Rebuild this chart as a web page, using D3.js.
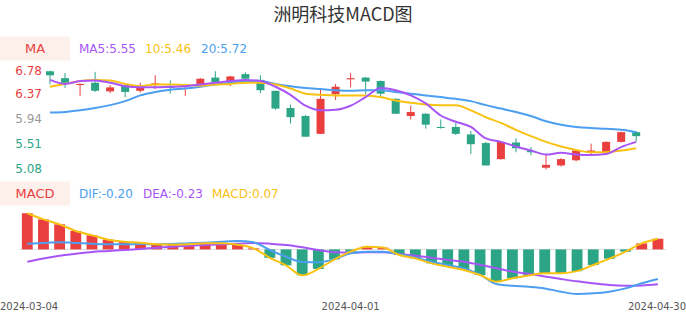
<!DOCTYPE html>
<html lang="zh">
<head>
<meta charset="utf-8">
<title>洲明科技MACD图</title>
<style>
  html, body { margin: 0; padding: 0; background: #fff; }
  svg { display: block; font-family: "DejaVu Sans", sans-serif; }
</style>
</head>
<body>
<script src="https://cdn.jsdelivr.net/npm/d3@7"></script>
<script>
// trading days
var dates = ["2024-03-04","2024-03-05","2024-03-06","2024-03-07","2024-03-08",
  "2024-03-11","2024-03-12","2024-03-13","2024-03-14","2024-03-15",
  "2024-03-18","2024-03-19","2024-03-20","2024-03-21","2024-03-22",
  "2024-03-25","2024-03-26","2024-03-27","2024-03-28","2024-03-29",
  "2024-04-01","2024-04-02","2024-04-03","2024-04-08","2024-04-09",
  "2024-04-10","2024-04-11","2024-04-12","2024-04-15","2024-04-16",
  "2024-04-17","2024-04-18","2024-04-19","2024-04-22","2024-04-23",
  "2024-04-24","2024-04-25","2024-04-26","2024-04-29","2024-04-30"];

// K line
var open  = [6.77,6.65,6.53,6.57,6.42,6.53,6.43,6.53,6.50,6.51,
             6.55,6.66,6.60,6.72,6.62,6.43,6.13,5.99,5.68,6.37,
             6.63,6.66,6.60,6.29,5.99,6.03,5.80,5.80,5.67,5.52,
             5.24,5.53,5.39,5.09,5.13,5.22,5.35,5.36,5.54,5.71];
var close = [6.70,6.57,6.55,6.43,6.49,6.41,6.48,6.56,6.48,6.53,
             6.64,6.58,6.68,6.64,6.44,6.12,5.97,5.63,6.29,6.50,
             6.65,6.59,6.38,6.03,6.06,5.84,5.79,5.68,5.50,5.13,
             5.54,5.43,5.36,5.14,5.24,5.39,5.39,5.54,5.71,5.64];
var high  = [6.78,6.74,6.56,6.76,6.53,6.54,6.57,6.70,6.61,6.54,
             6.65,6.77,6.69,6.75,6.70,6.43,6.19,6.01,6.48,6.55,
             6.74,6.67,6.61,6.30,6.17,6.04,5.93,5.87,5.73,5.54,
             5.55,5.60,5.45,5.31,5.26,5.40,5.51,5.55,5.72,5.73];
var low   = [6.54,6.48,6.34,6.41,6.39,6.32,6.40,6.46,6.38,6.34,
             6.54,6.57,6.51,6.63,6.39,6.10,5.86,5.63,5.68,6.27,
             6.49,6.37,6.33,6.03,5.93,5.77,5.77,5.66,5.33,5.13,
             5.23,5.36,5.31,5.06,5.11,5.20,5.31,5.36,5.53,5.55];

// moving averages
var ma5  = [6.62,6.55,6.60,6.61,6.57,6.51,6.49,6.49,6.50,6.51,
            6.54,6.57,6.60,6.62,6.60,6.50,6.36,6.17,6.09,6.10,
            6.17,6.32,6.48,6.44,6.35,6.21,6.00,5.89,5.80,5.60,
            5.54,5.46,5.39,5.32,5.35,5.32,5.31,5.33,5.45,5.54];
var ma10 = [6.50,6.55,6.60,6.62,6.61,6.55,6.51,6.54,6.54,6.53,
            6.52,6.54,6.55,6.57,6.57,6.54,6.47,6.38,6.36,6.35,
            6.35,6.35,6.32,6.26,6.22,6.19,6.18,6.18,6.09,5.97,
            5.87,5.75,5.64,5.54,5.46,5.40,5.36,5.36,5.39,5.43];
var ma20 = [6.05,6.06,6.09,6.13,6.18,6.25,6.35,6.41,6.45,6.47,
            6.50,6.54,6.57,6.60,6.60,6.55,6.51,6.48,6.46,6.44,
            6.43,6.44,6.44,6.41,6.38,6.35,6.32,6.29,6.25,6.18,
            6.12,6.06,5.99,5.90,5.84,5.80,5.78,5.77,5.75,5.71];

// MACD
var dif  = [0.038,0.043,0.047,0.043,0.038,0.034,0.034,0.036,0.034,0.036,
            0.041,0.045,0.051,0.056,0.047,-0.004,-0.049,-0.084,-0.086,-0.064,
            -0.026,-0.015,-0.015,-0.033,-0.055,-0.082,-0.104,-0.127,-0.168,-0.23,
            -0.242,-0.249,-0.26,-0.282,-0.297,-0.293,-0.282,-0.26,-0.226,-0.197];
var dea  = [-0.082,-0.06,-0.042,-0.029,-0.017,-0.011,-0.004,0.003,0.011,0.018,
            0.025,0.029,0.034,0.038,0.043,0.038,0.029,0.014,-0.004,-0.019,
            -0.022,-0.019,-0.019,-0.031,-0.042,-0.055,-0.071,-0.082,-0.103,-0.125,
            -0.148,-0.163,-0.18,-0.197,-0.213,-0.226,-0.238,-0.243,-0.241,-0.233];
var macd = [0.241,0.20,0.167,0.123,0.094,0.065,0.051,0.045,0.034,0.031,
            0.034,0.041,0.041,0.031,0.007,-0.056,-0.106,-0.173,-0.13,-0.066,
            -0.015,0.018,0.012,-0.037,-0.06,-0.093,-0.115,-0.137,-0.171,-0.215,
            -0.193,-0.174,-0.159,-0.159,-0.145,-0.104,-0.062,-0.015,0.04,0.071];

var priceTicks = [6.78, 6.37, 5.94, 5.51, 5.08];
var priceMid = 5.94;
var xLabelIdx = [0, 20, 39];

var maLegend = [["MA5:5.55", "#a855f7"], ["10:5.46", "#f9c112"], ["20:5.72", "#4c9ff0"]];
var macdLegend = [["DIF:-0.20", "#4c9ff0"], ["DEA:-0.23", "#a855f7"], ["MACD:0.07", "#f9c112"]];

var w = 686, h = 320;
var red = "#e9403f", green = "#2ba586";
var cPurple = "#a855f7", cYellow = "#f9c112", cBlue = "#4c9ff0";

var svg = d3.select("body").append("svg").attr("width", w).attr("height", h);

// title
svg.append("text")
  .attr("x", w / 2).attr("y", 21)
  .attr("text-anchor", "middle")
  .style("font-family", "'Noto Sans CJK SC', sans-serif")
  .style("font-size", "18px")
  .attr("fill", "#333")
  .text("洲明科技MACD图");

function legend(y, name, items, xs) {
  svg.append("rect").attr("x", 0).attr("y", y - 12).attr("width", 70).attr("height", 24)
    .attr("fill", "#fdf0eb");
  svg.append("text").attr("x", 35).attr("y", y).attr("dy", "0.35em")
    .attr("text-anchor", "middle").style("font-size", "13px").attr("fill", red).text(name);
  items.forEach(function(d, i) {
    svg.append("text").attr("x", xs[i]).attr("y", y).attr("dy", "0.35em")
      .style("font-size", "12px").attr("fill", d[1]).text(d[0]);
  });
}
legend(48.5, "MA", maLegend, [79, 145, 201]);
legend(193.5, "MACD", macdLegend, [79, 143, 212]);

// ---- candle panel
var idx = d3.range(dates.length);
var x = d3.scaleBand().domain(idx).range([42.5, 643.7]);
var cx = function(i) { return x(i) + x.bandwidth() / 2; };
var y = d3.scaleLinear().domain([5.08, 6.78]).range([168.3, 70.7]);

svg.selectAll("text.ptick")
  .data(priceTicks)
  .enter().append("text")
  .attr("class", "ptick")
  .attr("x", 42).attr("y", function(d) { return y(d); }).attr("dy", "0.35em")
  .attr("text-anchor", "end")
  .style("font-size", "12px")
  .attr("fill", function(d) { return d > priceMid ? red : (d < priceMid ? green : "#999"); })
  .text(function(d) { return d.toFixed(2); });

var candle = svg.append("g").selectAll("g")
  .data(idx).enter().append("g");
candle.append("line")
  .attr("x1", cx).attr("x2", cx)
  .attr("y1", function(i) { return y(high[i]); })
  .attr("y2", function(i) { return y(low[i]); })
  .attr("stroke", function(i) { return close[i] >= open[i] ? red : green; })
  .attr("stroke-width", 1);
candle.append("rect")
  .attr("x", function(i) { return cx(i) - 4; })
  .attr("width", 8)
  .attr("y", function(i) { return y(Math.max(open[i], close[i])); })
  .attr("height", function(i) { return Math.max(1, Math.abs(y(open[i]) - y(close[i]))); })
  .attr("fill", function(i) { return close[i] >= open[i] ? red : green; });

var maLine = d3.line().x(function(d, i) { return cx(i); }).y(function(d) { return y(d); })
  .curve(d3.curveMonotoneX);
[[ma20, cBlue], [ma10, cYellow], [ma5, cPurple]].forEach(function(s) {
  svg.append("path").attr("d", maLine(s[0])).attr("fill", "none")
    .attr("stroke", s[1]).attr("stroke-width", 2);
});

// ---- MACD panel
var x2 = d3.scaleBand().domain(idx).range([19.2, 666]).paddingInner(0.33).paddingOuter(0.165);
var cx2 = function(i) { return x2(i) + x2.bandwidth() / 2; };
var y2 = d3.scaleLinear().domain([-0.3, 0.25]).range([294.4, 211.9]);

svg.append("line").attr("x1", 19).attr("x2", 666).attr("y1", y2(0)).attr("y2", y2(0))
  .attr("stroke", "#ddd").attr("stroke-width", 1);

svg.append("g").selectAll("rect")
  .data(idx).enter().append("rect")
  .attr("x", function(i) { return x2(i); })
  .attr("width", x2.bandwidth())
  .attr("y", function(i) { return y2(Math.max(0, macd[i])); })
  .attr("height", function(i) { return Math.abs(y2(macd[i]) - y2(0)); })
  .attr("fill", function(i) { return macd[i] >= 0 ? red : green; });

var mLine = d3.line().x(function(d, i) { return cx2(i); }).y(function(d) { return y2(d); })
  .curve(d3.curveMonotoneX);
[[dea, cPurple], [dif, cBlue], [macd, cYellow]].forEach(function(s) {
  svg.append("path").attr("d", mLine(s[0])).attr("fill", "none")
    .attr("stroke", s[1]).attr("stroke-width", 2);
});

// x labels
svg.selectAll("text.xl")
  .data(xLabelIdx).enter().append("text")
  .attr("class", "xl")
  .attr("x", function(i, k) { return k === 0 ? 0 : (k === xLabelIdx.length - 1 ? w : cx2(i)); })
  .attr("y", 306).attr("dy", "0.35em")
  .attr("text-anchor", function(i, k) { return k === 0 ? "start" : (k === xLabelIdx.length - 1 ? "end" : "middle"); })
  .style("font-size", "10px")
  .attr("fill", "#555")
  .text(function(i) { return dates[i]; });
</script>
</body>
</html>
